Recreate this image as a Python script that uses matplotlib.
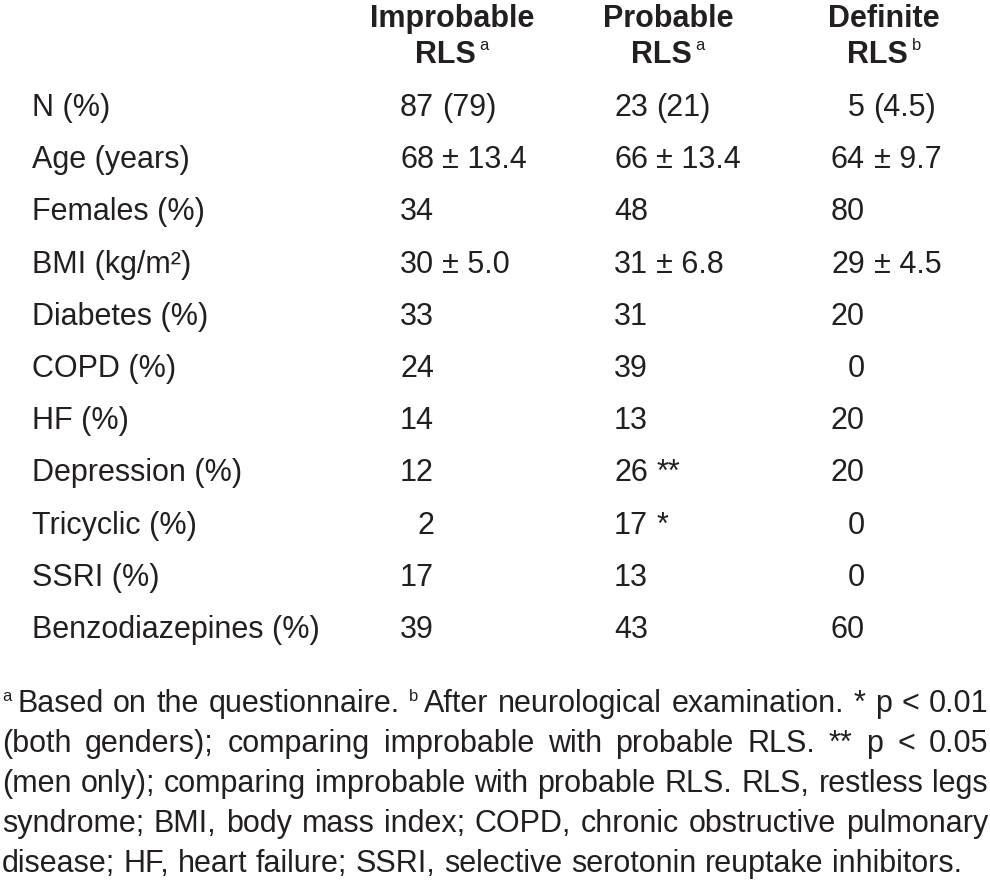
import matplotlib
matplotlib.use("Agg")
import matplotlib.pyplot as plt

# table content
col_heads = ["Improbable", "Probable", "Definite"]
col_marks = ["a", "a", "b"]
row_labels = ["N (%)", "Age (years)", "Females (%)", "BMI (kg/m²)", "Diabetes (%)",
              "COPD (%)", "HF (%)", "Depression (%)", "Tricyclic (%)", "SSRI (%)",
              "Benzodiazepines (%)"]
improbable = ["87 (79)", "68 ± 13.4", "34", "30 ± 5.0", "33", "24", "14", "12", "2", "17", "39"]
probable = ["23 (21)", "66 ± 13.4", "48", "31 ± 6.8", "31", "39", "13", "26 **", "17 *", "13", "43"]
definite = ["5 (4.5)", "64 ± 9.7", "80", "29 ± 4.5", "20", "0", "20", "20", "0", "0", "60"]

footnote = [
    "{a}Based on the questionnaire. {b}After neurological examination. * p < 0.01",
    "(both genders); comparing improbable with probable RLS. ** p < 0.05",
    "(men only); comparing improbable with probable RLS. RLS, restless legs",
    "syndrome; BMI, body mass index; COPD, chronic obstructive pulmonary",
    "disease; HF, heart failure; SSRI, selective serotonin reuptake inhibitors.",
]

W, H = 990, 888
FONT = "Liberation Sans"
SIZE = 22
SUP = 12
INK = "#231f20"

fig = plt.figure(figsize=(W / 100, H / 100), dpi=100)
fig.patch.set_facecolor("white")
renderer = fig.canvas.get_renderer()


def put(x, y, s, size=SIZE, weight="normal", ha="left"):
    return fig.text(x / W, 1 - y / H, s, fontsize=size, fontweight=weight,
                    family=FONT, ha=ha, va="baseline", color=INK)


def wid(t):
    return t.get_window_extent(renderer).width


def move(t, x, y):
    t.set_position((x / W, 1 - y / H))


# header
head_cx = [452, 668, 884]
for cx, head, mark in zip(head_cx, col_heads, col_marks):
    put(cx, 27, head, weight="bold", ha="center")
    t1 = put(0, 63, "RLS", weight="bold")
    t2 = put(0, 50, mark, size=SUP)
    w1, w2 = wid(t1), wid(t2)
    x0 = cx - (w1 + 4 + w2) / 2
    move(t1, x0, 63)
    move(t2, x0 + w1 + 4, 50)

# rows
y0 = 116
pitch = 52.2
anchors = [434, 648, 865]
space = 8.5
for i, lab in enumerate(row_labels):
    y = y0 + i * pitch
    put(32, y, lab)
    for col, ax_x in zip([improbable, probable, definite], anchors):
        s = col[i]
        if " " in s:
            lead, rest = s.split(" ", 1)
        else:
            lead, rest = s, ""
        put(ax_x, y, lead, ha="right")
        if rest:
            put(ax_x + space, y, rest)


# footnote, justified
def parse_word(w):
    parts = []
    while w:
        if w.startswith("{"):
            j = w.index("}")
            parts.append((w[1:j], True))
            w = w[j + 1:]
        else:
            j = w.find("{")
            if j == -1:
                parts.append((w, False))
                w = ""
            else:
                parts.append((w[:j], False))
                w = w[j:]
    return parts


fy0 = 712
fpitch = 40
left, right = 2, 988
sup_gap = 6
for li, line in enumerate(footnote):
    y = fy0 + li * fpitch
    words = []
    for w in line.split(" "):
        texts = []
        total = 0
        for s, sup in parse_word(w):
            if sup:
                t = put(0, y - 11, s, size=SUP)
                texts.append((t, True, wid(t)))
                total += wid(t) + sup_gap
            else:
                t = put(0, y, s)
                texts.append((t, False, wid(t)))
                total += wid(t)
        words.append((texts, total))
    total_w = sum(w[1] for w in words)
    if li < len(footnote) - 1:
        gap = (right - left - total_w) / (len(words) - 1)
    else:
        gap = space
    x = left
    for texts, tw in words:
        xx = x
        for t, sup, w in texts:
            move(t, xx, y - 11 if sup else y)
            xx += w + (sup_gap if sup else 0)
        x += tw + gap

fig.savefig("out.png", dpi=100, facecolor="white")
